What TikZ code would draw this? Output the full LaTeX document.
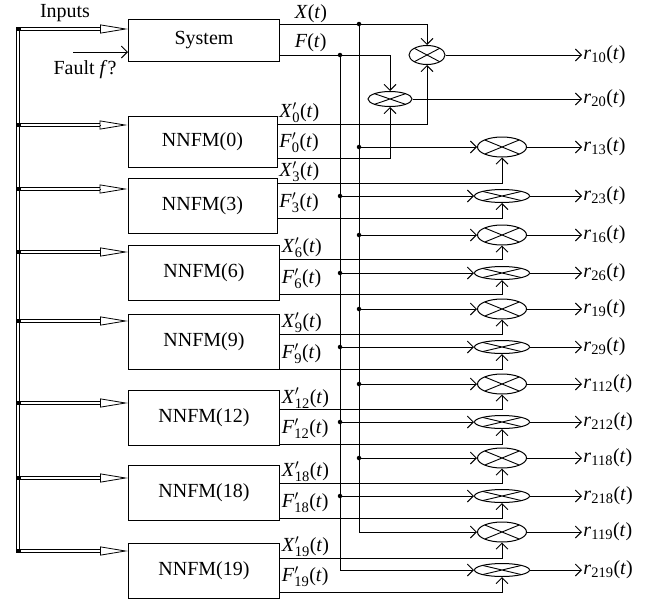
\RequirePackage{fix-cm}
\documentclass[tikz,border=0pt]{standalone}
\usepackage{fontspec}
\setmainfont{Liberation Serif}
\usetikzlibrary{arrows.meta,calc,shapes.geometric}
\newcommand{\subsz}[1]{\hbox{\fontsize{14.5}{15}\selectfont #1}}
\newcommand{\sigl}[2]{\textit{#1}\ensuremath{#2}(\textit{t})}
\begin{document}
\begin{tikzpicture}[x=1pt,y=-1pt, line width=0.9pt,
  every node/.style={font=\fontsize{20}{23}\selectfont},
  blk/.style={draw, line width=1pt, minimum width=151pt, inner sep=0pt},
  arr/.style={-{Straight Barb[length=6pt,width=12pt]}},
  dbl/.style={double, double distance=2.2pt, line width=0.8pt},
  tri/.style={line width=0.8pt, -{Triangle[open, length=28pt, width=9pt]}},
  dot/.style={circle, fill, inner sep=0pt, minimum size=4.5pt},
  sq/.style={rectangle, fill, inner sep=0pt, minimum width=5pt, minimum height=4pt},
  lab/.style={anchor=south west, inner sep=0.5pt, xshift=1pt},
  rlab/.style={anchor=west, inner sep=1pt},
  mul/.style={ellipse, draw, line width=1pt, inner sep=0pt,
    path picture={
      \draw[line width=0.9pt]
        ($(path picture bounding box.center)!0.7071!(path picture bounding box.north east)$) --
        ($(path picture bounding box.center)!0.7071!(path picture bounding box.south west)$)
        ($(path picture bounding box.center)!0.7071!(path picture bounding box.north west)$) --
        ($(path picture bounding box.center)!0.7071!(path picture bounding box.south east)$);
    }},
  mulx/.style={mul, minimum width=49pt, minimum height=20pt},
  mulf/.style={mul, minimum width=55pt, minimum height=13pt}
]
\useasboundingbox (0,0) rectangle (648,603);

% blocks
\node[blk, minimum height=42pt] (sys) at (204,40) {System};
\node[blk, minimum width=149pt, minimum height=51pt] (n0) at (202.5,141.5) {NNFM(0)};
\node[blk, minimum width=149pt, minimum height=55pt] (n3) at (202.5,205.5) {NNFM(3)};
\node[blk, minimum height=55pt] (n6) at (204,272.5) {NNFM(6)};
\node[blk, minimum height=55pt] (n9) at (204,341.5) {NNFM(9)};
\node[blk, minimum height=55pt] (n12) at (204,417.5) {NNFM(12)};
\node[blk, minimum height=55pt] (n18) at (204,492.5) {NNFM(18)};
\node[blk, minimum height=55pt] (n19) at (204,570.5) {NNFM(19)};

% multipliers
\node[mul, minimum width=36pt, minimum height=19pt] (e10) at (427,55) {};
\node[mul, minimum width=44pt, minimum height=15pt] (e20) at (390,99) {};
\foreach \e/\y in {13/147, 16/235, 19/309, 112/384, 118/458, 119/532}
  \node[mulx] (e\e) at (502,\y) {};
\foreach \e/\y in {23/196, 26/273, 29/347, 212/422, 218/496, 219/570}
  \node[mulf] (e\e) at (502,\y) {};

% labels
\node (inp) at (65,13) {Inputs};
\node (flt) at (85,70) {Fault \textit{f}?};

% input bus
\coordinate (bt) at (18,27.5);
\coordinate (bb) at (18,552.5);
\draw[dbl] (bt) -- (bb);
\foreach \b/\y in {sys/29, n0/125, n3/189, n6/252, n9/321, n12/403, n18/478, n19/551} {
  \coordinate (j\b) at (18,\y);
  \draw[dbl, shorten >=27.5pt] (j\b) -- (j\b -| \b.west);
  \draw[tri] ($(j\b -| \b.west)+(-28,0)$) -- (j\b -| \b.west);
  \node[sq] at (j\b) {};
}

% fault input
\coordinate (fa) at (73,52);
\draw[arr] (fa) -- (fa -| sys.west);

% system outputs
\coordinate (xd) at (359,24);
\coordinate (fd) at (340,55);
\coordinate (xb) at (359,532);
\coordinate (fb) at (340,570);
\draw[arr] (sys.east |- xd) -| (e10.north);
\draw[arr] (sys.east |- fd) -| (e20.north);
\node[lab, xshift=13pt] at (sys.east |- xd) {\sigl{X}{}};
\node[lab, xshift=13pt, yshift=2pt] at (sys.east |- fd) {\sigl{F}{}};
\draw (xd) -- (xb);
\draw (fd) -- (fb);
\draw[arr] (xb) -- (e119.west);
\draw[arr] (fb) -- (e219.west);
\node[dot] at (xd) {};
\node[dot] at (fd) {};
\foreach \e in {13,16,19,112,118} {
  \draw[arr] (xd |- e\e) -- (e\e.west);
  \node[dot] at (xd |- e\e) {};
}
\foreach \e in {23,26,29,212,218} {
  \draw[arr] (fd |- e\e) -- (e\e.west);
  \node[dot] at (fd |- e\e) {};
}

% model outputs
\foreach \b/\k/\y/\e in {n0/0/124/e10, n3/3/183/e13, n6/6/259/e16, n9/9/334/e19, n12/12/409/e112, n18/18/483/e118, n19/19/558/e119} {
  \coordinate (xo\k) at (0,\y);
  \draw[arr] (\b.east |- xo\k) -| (\e.south);
  \node[lab] at (\b.east |- xo\k) {\sigl{X}{'_{\subsz{\k}}}};
}
\foreach \b/\k/\y/\e in {n0/0/158/e20, n3/3/218/e23, n6/6/294/e26, n9/9/369/e29, n12/12/444/e212, n18/18/518/e218, n19/19/592/e219} {
  \coordinate (fo\k) at (0,\y);
  \draw[arr] (\b.east |- fo\k) -| (\e.south);
  \node[lab, yshift=4.5pt] at (\b.east |- fo\k) {\sigl{F}{'_{\subsz{\k}}}};
}

% residual outputs
\coordinate (rx) at (582,0);
\foreach \e in {10,20,13,23,16,26,19,29,112,212,118,218,119,219}
  \draw[arr] (e\e.east) -- (e\e.east -| rx) node[rlab] {\sigl{r}{_{\subsz{\e}}}};
\end{tikzpicture}
\end{document}
